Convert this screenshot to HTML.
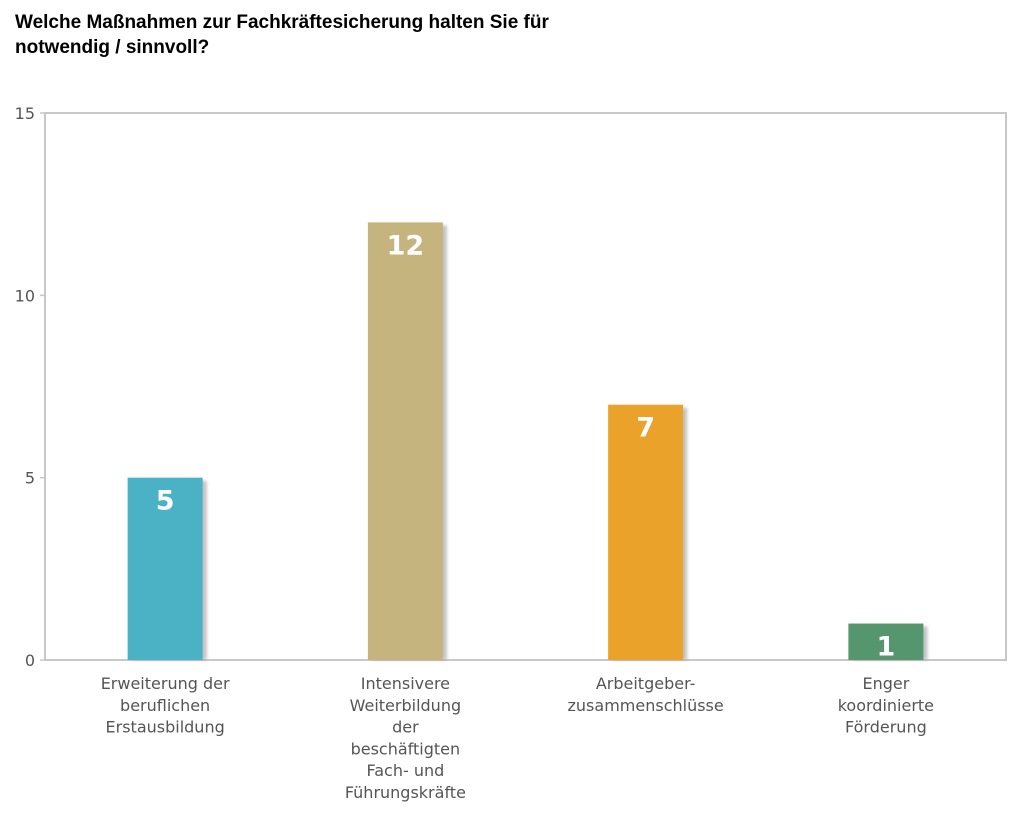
<!DOCTYPE html>
<html><head><meta charset="utf-8"><style>
body{margin:0;background:#fff;width:1029px;height:822px;overflow:hidden;font-family:"Liberation Sans",sans-serif}
#t{position:absolute;left:15px;top:10px;font-size:19px;font-weight:bold;color:#000;line-height:25px}
</style></head><body>
<div id="t">Welche Maßnahmen zur Fachkräftesicherung halten Sie für<br>notwendig / sinnvoll?</div>
<svg id="c" width="1029" height="822" style="position:absolute;left:0;top:0">
<defs><filter id="sh" x="-20%" y="-5%" width="150%" height="110%"><feGaussianBlur stdDeviation="1.5"/></filter></defs>
</svg>
<script>
const categories=[["Erweiterung der","beruflichen","Erstausbildung"],["Intensivere","Weiterbildung","der","beschäftigten","Fach- und","Führungskräfte"],["Arbeitgeber-","zusammenschlüsse"],["Enger","koordinierte","Förderung"]];
const values=[5,12,7,1];
const colors=["#4BB1C5","#C6B47F","#EAA22B","#56966F"];
const ticks=[0,5,10,15];
const svg=document.getElementById('c');const NS="http://www.w3.org/2000/svg";
const L=45,R=1006,T=113,B=660,max=15;
const y=v=>B-(B-T)*v/max;const bw=(R-L)/categories.length;const x=i=>L+bw*(i+0.5);
function mk(tag,a,p){const e=document.createElementNS(NS,tag);for(const k in a)e.setAttribute(k,a[k]);(p||svg).appendChild(e);return e;}
const frame=mk('rect',{x:L,y:T,width:R-L,height:B-T,fill:'none',stroke:'#c8c8c8','stroke-width':2});


ticks.forEach(t=>{
 const l=mk('line',{x1:L-5,x2:L,y1:y(t),y2:y(t),stroke:'#c8c8c8','stroke-width':1.5});
 
 
 const tx=mk('text',{x:L-10,y:y(t)+6,'text-anchor':'end','font-size':16,fill:'#555','font-family':'DejaVu Sans, sans-serif'});
 tx.textContent=t;
 
 
});
values.forEach((v,i)=>{
 const cx=x(i),w=75;
 const s=mk('rect',{x:cx-w/2+4,y:y(v)+3,width:w,height:B-y(v)-3,fill:'#999',opacity:0.6,filter:'url(#sh)'});
 
 
 const r=mk('rect',{x:cx-w/2,y:y(v),width:w,height:B-y(v),fill:colors[i]});
 
 
 const vl=mk('text',{x:cx,y:y(v)+32,'text-anchor':'middle','font-size':27,'font-weight':'bold',fill:'#fff','font-family':'DejaVu Sans, sans-serif'});
 vl.textContent=v;
 
 
 categories[i].forEach((ln,j)=>{
  const c=mk('text',{x:cx,y:B+29+j*21.8,'text-anchor':'middle','font-size':16,fill:'#555','font-family':'DejaVu Sans, sans-serif'});
  c.textContent=ln;
  
  
 });
});
</script>
</body></html>
